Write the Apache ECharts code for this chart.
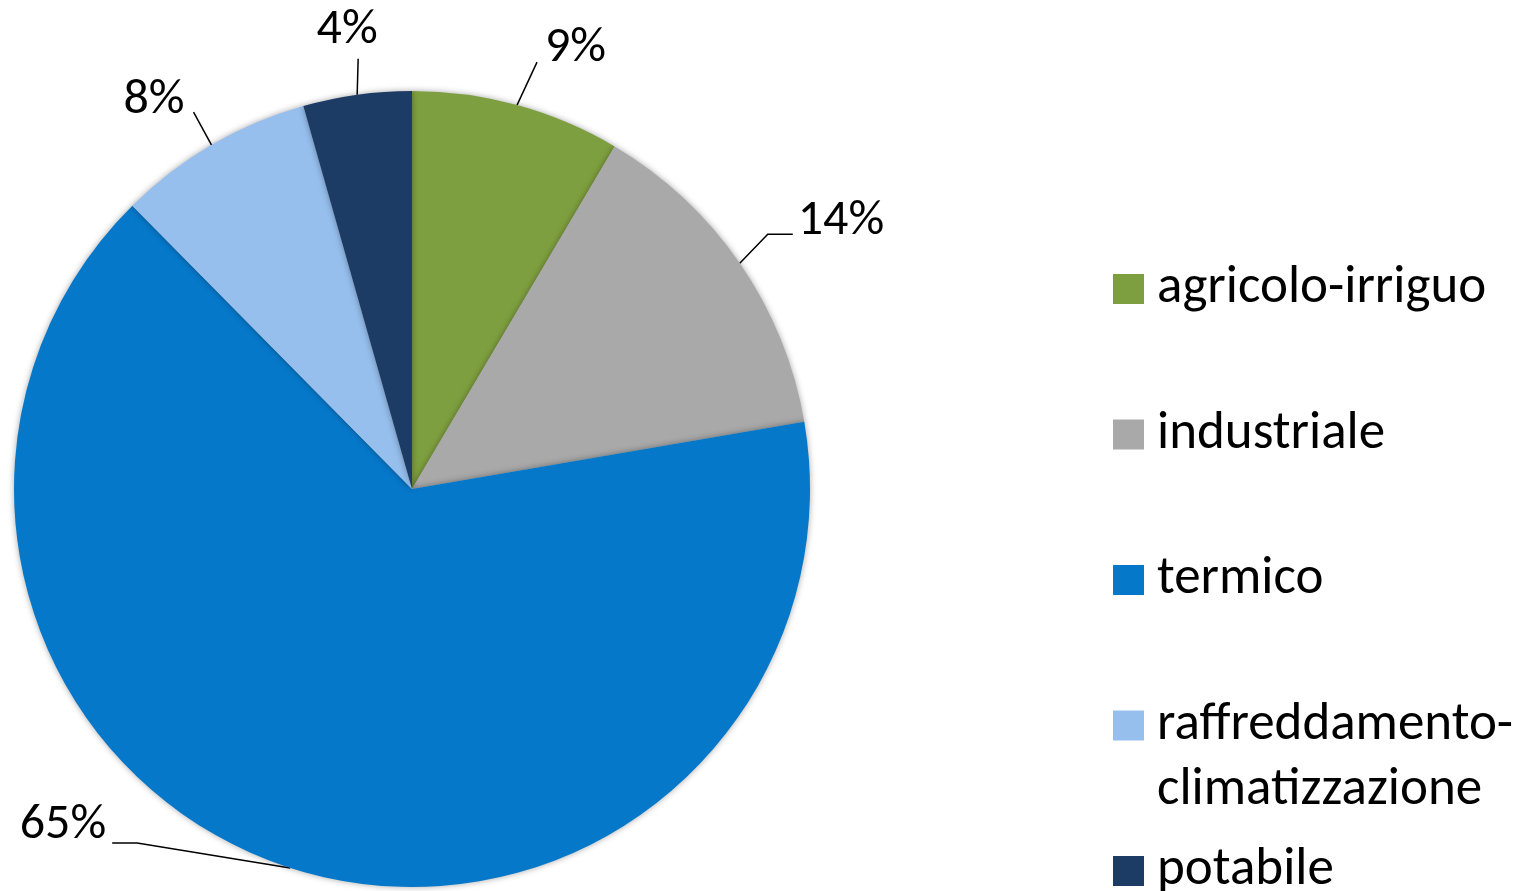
<!DOCTYPE html>
<html>
<head>
<meta charset="utf-8">
<script src="https://cdn.jsdelivr.net/npm/echarts@6/dist/echarts.min.js"></script>
<style>
  html, body { margin: 0; padding: 0; background: #ffffff; }
  #chart { width: 1526px; height: 891px; }
</style>
</head>
<body>
<div id="chart"></div>
<script>
// ---- data ----
const categories = ['agricolo-irriguo', 'industriale', 'termico', 'raffreddamento-climatizzazione', 'potabile'];
const legendTexts = ['agricolo-irriguo', 'industriale', 'termico', 'raffreddamento-\nclimatizzazione', 'potabile'];
const values = [8.5, 13.8, 65.3, 8.0, 4.4];
const colors = ['#7E9F3F', '#A9A9A9', '#0678CA', '#96BFEE', '#1C3B65'];

// label placement offsets relative to the slice edge anchor computed by ECharts
const labelOffsets = [
  { p1: [20, -43], p2: [20, -43], t: [28, -57], align: 'left' },
  { p1: [28, -29], p2: [53, -29], t: [58, -42], align: 'left' },
  { p1: [-153, -25], p2: [-178, -25], t: [-184, -42], align: 'right' },
  { p1: [-18, -33], p2: [-18, -33], t: [-27, -45], align: 'right' },
  { p1: [1, -36], p2: [1, -36], t: [-10, -64], align: 'center' }
];

const FONT = 'Calibri, Carlito, Lato, sans-serif';
const WRAP_LINE = 65;               // line spacing of a wrapped legend entry
const ENTRY_BOX = 3 * WRAP_LINE;    // every legend entry gets the same box height
const ENTRY_STEP = 145.5;           // distance between legend entries

const chart = echarts.init(document.getElementById('chart'), null, { renderer: 'canvas' });

const pieData = categories.map((c, i) => ({
  name: c,
  value: values[i],
  itemStyle: { color: colors[i] }
}));

const legendItem = (i) => {
  const item = { name: categories[i], icon: 'rect' };
  if (legendTexts[i].indexOf('\n') >= 0) {
    item.textStyle = { lineHeight: WRAP_LINE };
  }
  return item;
};

const option = {
  backgroundColor: '#ffffff',
  animation: false,
  legend: {
    orient: 'vertical',
    left: 1113,
    top: 289 - ENTRY_BOX / 2,
    height: 1000,
    padding: 0,
    itemGap: ENTRY_STEP - ENTRY_BOX,
    itemWidth: 31,
    itemHeight: 30,
    selectedMode: false,
    data: [0, 1, 2, 3, 4].map(legendItem),
    formatter: (name) => {
      const t = legendTexts[categories.indexOf(name)];
      // an empty leading line keeps the first line of a wrapped entry centred on its icon
      return t.indexOf('\n') >= 0 ? '\n' + t : t;
    },
    textStyle: { fontFamily: FONT, fontSize: 53, color: '#000', lineHeight: ENTRY_BOX, padding: [0, 0, 0, 8] }
  },
  series: [
    {
      type: 'pie',
      center: [412, 489],
      radius: [0, 398],
      startAngle: 90,
      clockwise: true,
      percentPrecision: 0,
      avoidLabelOverlap: false,
      data: pieData,
      itemStyle: {
        shadowBlur: 6,
        shadowColor: 'rgba(0,0,0,0.35)',
        borderWidth: 0
      },
      label: {
        show: true,
        position: 'outside',
        formatter: '{d}%',
        fontFamily: FONT,
        fontSize: 50,
        color: '#000'
      },
      labelLine: {
        show: true,
        length: 20,
        length2: 10,
        smooth: false,
        lineStyle: { color: '#000', width: 1.5 }
      },
      labelLayout: function (params) {
        const o = labelOffsets[params.dataIndex];
        const e = params.labelLinePoints[0];
        return {
          x: e[0] + o.t[0],
          y: e[1] + o.t[1],
          align: o.align,
          verticalAlign: 'middle',
          labelLinePoints: [
            [e[0], e[1]],
            [e[0] + o.p1[0], e[1] + o.p1[1]],
            [e[0] + o.p2[0], e[1] + o.p2[1]]
          ]
        };
      },
      emphasis: { disabled: true }
    }
  ]
};

chart.setOption(option);
</script>
</body>
</html>
